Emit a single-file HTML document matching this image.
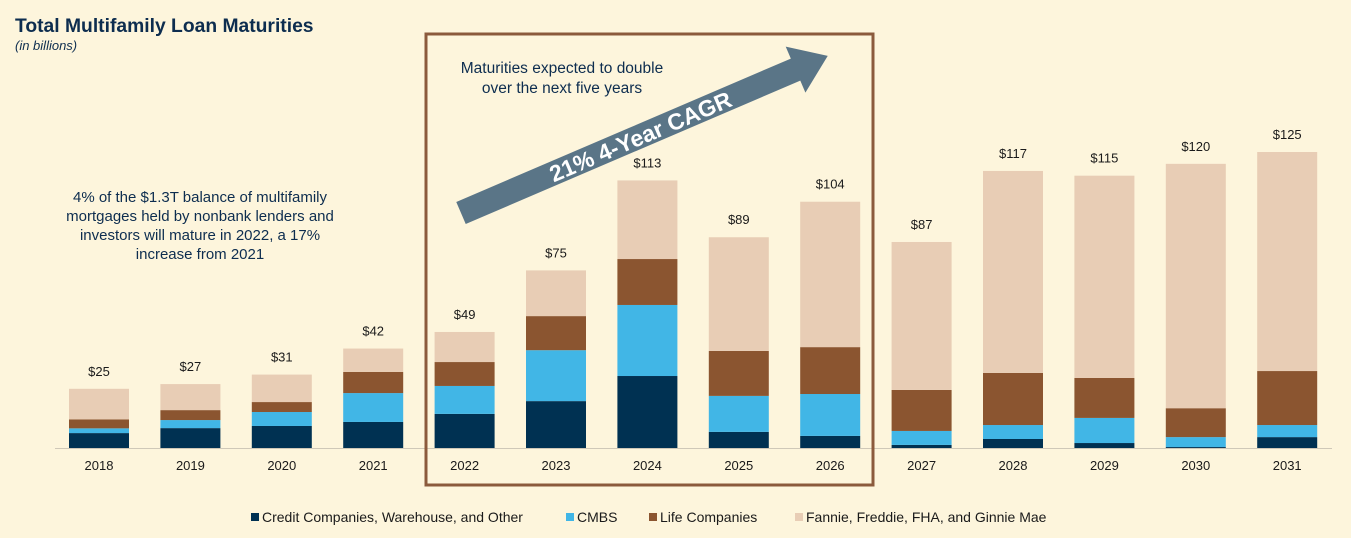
<!DOCTYPE html>
<html><head><meta charset="utf-8"><style>
body{margin:0;background:#fdf5dc;font-family:"Liberation Sans",sans-serif;}
</style></head><body>
<svg width="1351" height="533" xmlns="http://www.w3.org/2000/svg" id="chart" font-family="Liberation Sans, sans-serif">
<rect width="1351" height="533" fill="#fdf5dc"/>
<text x="15" y="32" font-size="19.3" font-weight="bold" fill="#0d2d4f">Total Multifamily Loan Maturities</text>
<text x="15" y="50" font-size="13" font-style="italic" fill="#0d2d4f">(in billions)</text>
<g id="bars"></g>
<line x1="55" y1="448.5" x2="1332" y2="448.5" stroke="#cfc8b8" stroke-width="1"/>
<rect x="426" y="34" width="447" height="451" fill="none" stroke="#8b5a3c" stroke-width="3"/>
<text font-size="15.5" fill="#0d2d4f" text-anchor="middle"><tspan x="562" y="73">Maturities expected to double</tspan><tspan x="562" y="93">over the next five years</tspan></text>
<g transform="translate(461,213) rotate(-23.2)">
<polygon points="0,-12 364,-12 364,-25 399,0 364,25 364,12 0,12" fill="#5a7587"/>
<text x="195" y="8.5" font-size="23" font-weight="bold" fill="#fff" text-anchor="middle">21% 4-Year CAGR</text>
</g>
<text font-size="15" fill="#0d2d4f" text-anchor="middle"><tspan x="200" y="202">4% of the $1.3T balance of multifamily</tspan><tspan x="200" y="221">mortgages held by nonbank lenders and</tspan><tspan x="200" y="240">investors will mature in 2022, a 17%</tspan><tspan x="200" y="259">increase from 2021</tspan></text>
<g id="legend" font-size="14" fill="#1a1a1a"></g>
</svg>
<script>
const years=["2018","2019","2020","2021","2022","2023","2024","2025","2026","2027","2028","2029","2030","2031"];
const totals=[25,27,31,42,49,75,113,89,104,87,117,115,120,125];
const credit=[6.3,8.4,9.3,11,14.4,19.8,30.4,6.8,5.1,1.3,3.8,2.1,0.4,4.6];
const cmbs=[2,3.4,5.9,12.2,11.8,21.5,30,15.2,17.7,5.9,5.9,10.6,4.2,5.1];
const life=[3.8,4.2,4.2,8.9,10.1,14.4,19.4,19,19.8,17.3,22,16.9,12.2,22.8];
const totalLabels=["$25","$27","$31","$42","$49","$75","$113","$89","$104","$87","$117","$115","$120","$125"];
const seriesNames=["Credit Companies, Warehouse, and Other","CMBS","Life Companies","Fannie, Freddie, FHA, and Ginnie Mae"];
const colors=["#003152","#41b6e6","#8b5530","#e8cdb5"];
const NS="http://www.w3.org/2000/svg";
const base=448, scale=2.368, x0=99, step=91.4, bw=60;
const xc=i=>x0+i*step, yv=v=>v*scale;
const g=document.getElementById('bars');
function mk(t,a){const e=document.createElementNS(NS,t);for(const k in a)e.setAttribute(k,a[k]);return e;}
years.forEach((yr,i)=>{
  const fannie=totals[i]-credit[i]-cmbs[i]-life[i];
  const segs=[credit[i],cmbs[i],life[i],fannie];
  let cum=0;
  segs.forEach((v,s)=>{
    const r=mk('rect',{x:xc(i)-bw/2,y:base-yv(cum+v),width:bw,height:yv(v),fill:colors[s]});
    
    
    g.appendChild(r);cum+=v;
  });
  const t=mk('text',{x:xc(i),y:base-yv(totals[i])-13,'font-size':13,'text-anchor':'middle',fill:'#1a1a1a'});
  t.textContent=totalLabels[i];
  
  
  g.appendChild(t);
  const xl=mk('text',{x:xc(i),y:470,'font-size':13,'text-anchor':'middle',fill:'#1a1a1a'});
  xl.textContent=yr;
  
  
  g.appendChild(xl);
});
const lg=document.getElementById('legend');
const lx=[251,566,649,795];
seriesNames.forEach((n,s)=>{
  const r=mk('rect',{x:lx[s],y:513,width:8,height:8,fill:colors[s]});
  
  
  lg.appendChild(r);
  const t=mk('text',{x:lx[s]+11,y:522});
  t.textContent=n;
  
  
  lg.appendChild(t);
});
</script>
</body></html>
